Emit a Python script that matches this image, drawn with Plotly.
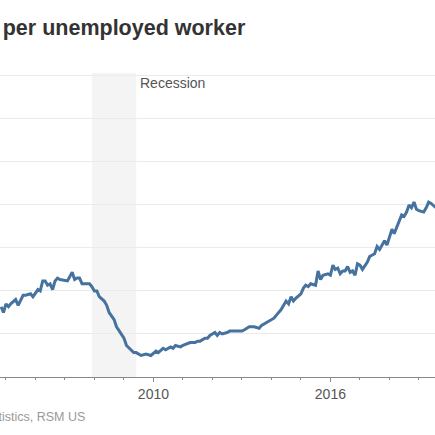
"""
Job openings per unemployed worker, with the 2007-09 recession shaded.
"""
import plotly.graph_objects as go

# Monthly readings (ratio of job openings to unemployed workers)
months = [
    "2004-11", "2004-12", "2005-01", "2005-02", "2005-03", "2005-05", "2005-06",
    "2005-07", "2005-08", "2005-09", "2005-11", "2005-12", "2006-02", "2006-03",
    "2006-04", "2006-05", "2006-06", "2006-07", "2006-08", "2006-09", "2006-10",
    "2006-11", "2007-01", "2007-02", "2007-04", "2007-05", "2007-06", "2007-07",
    "2007-08", "2007-09", "2007-11", "2007-12", "2008-01", "2008-02", "2008-03",
    "2008-05", "2008-06", "2008-07", "2008-09", "2008-10", "2008-11", "2009-01",
    "2009-02", "2009-04", "2009-05", "2009-06", "2009-08", "2009-10", "2009-12",
    "2010-02", "2010-03", "2010-05", "2010-06", "2010-08", "2010-09", "2010-10",
    "2010-12", "2011-01", "2011-03", "2011-04", "2011-06", "2011-07", "2011-08",
    "2011-10", "2011-11", "2011-12", "2012-02", "2012-03", "2012-04", "2012-05",
    "2012-07", "2012-08", "2012-10", "2012-12", "2013-01", "2013-02", "2013-04",
    "2013-05", "2013-06", "2013-08", "2013-09", "2013-11", "2014-01", "2014-02",
    "2014-03", "2014-05", "2014-06", "2014-07", "2014-08", "2014-09", "2014-10",
    "2014-11", "2015-01", "2015-02", "2015-03", "2015-04", "2015-05", "2015-07",
    "2015-08", "2015-09", "2015-10", "2015-12", "2016-01", "2016-02", "2016-03",
    "2016-04", "2016-05", "2016-06", "2016-07", "2016-08", "2016-09", "2016-10",
    "2016-11", "2016-12", "2017-01", "2017-02", "2017-04", "2017-05", "2017-07",
    "2017-08", "2017-09", "2017-10", "2017-11", "2017-12", "2018-01", "2018-02",
    "2018-03", "2018-05", "2018-06", "2018-07", "2018-08", "2018-09", "2018-10",
    "2018-11", "2018-12", "2019-01", "2019-03", "2019-04", "2019-05", "2019-06",
    "2019-08",
]
ratio = [
    0.49, 0.45, 0.51, 0.49, 0.51, 0.54, 0.50,
    0.54, 0.57, 0.57, 0.58, 0.56, 0.61, 0.60,
    0.67, 0.67, 0.64, 0.65, 0.61, 0.67, 0.69,
    0.68, 0.67, 0.67, 0.73, 0.68, 0.69, 0.69,
    0.65, 0.65, 0.65, 0.63, 0.60, 0.60, 0.56,
    0.53, 0.50, 0.45, 0.40, 0.35, 0.32, 0.27,
    0.22, 0.19, 0.17, 0.17, 0.15, 0.16, 0.15,
    0.18, 0.17, 0.20, 0.19, 0.21, 0.20, 0.22,
    0.21, 0.22, 0.23, 0.24, 0.24, 0.25, 0.25,
    0.27, 0.27, 0.29, 0.31, 0.29, 0.31, 0.30,
    0.31, 0.32, 0.32, 0.32, 0.32, 0.33, 0.35,
    0.35, 0.35, 0.34, 0.36, 0.38, 0.40, 0.41,
    0.43, 0.47, 0.50, 0.53, 0.51, 0.56, 0.53,
    0.55, 0.58, 0.62, 0.64, 0.63, 0.65, 0.64,
    0.74, 0.68, 0.71, 0.72, 0.71, 0.78, 0.75,
    0.76, 0.72, 0.74, 0.74, 0.77, 0.73, 0.74,
    0.71, 0.79, 0.78, 0.75, 0.80, 0.84, 0.86,
    0.91, 0.89, 0.92, 0.95, 0.92, 0.98, 1.03,
    1.00, 1.08, 1.13, 1.12, 1.15, 1.20, 1.18,
    1.22, 1.17, 1.16, 1.15, 1.18, 1.22, 1.21,
    1.18,
]

recession_start = "2007-12-01"
recession_end = "2009-06-01"

fig = go.Figure()

fig.add_trace(go.Scatter(
    x=months,
    y=ratio,
    mode="lines",
    line=dict(color="#46729f", width=3),
    hoverinfo="x+y",
    showlegend=False,
))

# Recession band
fig.add_vrect(
    x0=recession_start, x1=recession_end,
    fillcolor="#f4f4f4", line_width=0, layer="below",
)

fig.add_annotation(
    x=recession_end, y=1, xref="x", yref="paper",
    text="Recession", showarrow=False,
    xanchor="left", yanchor="top", xshift=2, yshift=0,
    font=dict(family="Liberation Sans, Arial", size=14, color="#555555"),
)

# Title and source sit partly off the left edge, as in the reference crop
fig.add_annotation(
    x=248 / 435, y=1.149, xref="paper", yref="paper",
    text="<b>Job openings per unemployed worker</b>", showarrow=False,
    xanchor="right", yanchor="middle",
    font=dict(family="Liberation Sans, Arial", size=21.5, color="#333333"),
)
fig.add_annotation(
    x=87 / 435, y=-0.132, xref="paper", yref="paper",
    text="Source: Bureau of Labor Statistics, RSM US", showarrow=False,
    xanchor="right", yanchor="middle",
    font=dict(family="Liberation Sans, Arial", size=12.5, color="#999999"),
)

fig.update_xaxes(
    type="date",
    range=["2004-10-19", "2019-07-19"],
    tick0="2004-01-01", dtick="M72", tickformat="%Y",
    ticks="outside", ticklen=4, tickcolor="#888888",
    minor=dict(dtick="M12", tick0="2004-01-01", ticks="outside",
               ticklen=2, tickcolor="#888888", showgrid=False),
    showline=True, linecolor="#888888", linewidth=1,
    showgrid=False, zeroline=False,
    tickfont=dict(family="Liberation Sans, Arial", size=14, color="#555555"),
)
fig.update_yaxes(
    range=[0, 2.12], dtick=0.3,
    showticklabels=False, ticks="",
    gridcolor="#ebebeb", gridwidth=1, zeroline=False,
)

fig.update_layout(
    width=435, height=435,
    margin=dict(l=0, r=0, t=73, b=58),
    plot_bgcolor="white", paper_bgcolor="white",
    font=dict(family="Liberation Sans, Arial"),
)

# drop the browser's default 8px body margin so the figure sits at the corner
fig.write_html(
    "out.html",
    config={"displayModeBar": False},
    post_script="document.body.style.margin='0';document.body.style.overflow='hidden';",
)
